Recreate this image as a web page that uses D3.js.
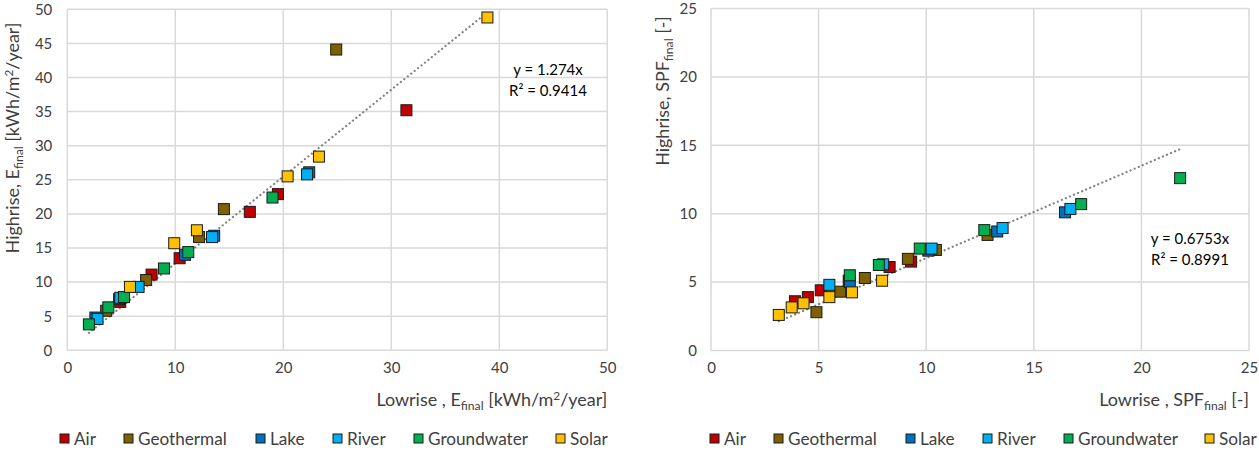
<!DOCTYPE html>
<html><head><meta charset="utf-8">
<script src="https://cdn.jsdelivr.net/npm/d3@7"></script>
<style>
html,body{margin:0;padding:0;background:#fff;}
text{font-family:Lato,"Liberation Sans",sans-serif;fill:#404040;}
</style></head>
<body>
<svg id="c" width="1259" height="454"></svg>
<script>
// ---------- data ----------
const seriesNames = ["Air","Geothermal","Lake","River","Groundwater","Solar"];
const seriesColors = ["#C00000","#7F6000","#0070C0","#00B0F0","#00B050","#FFC000"];

// Left chart: E_final [kWh/m2/year] (lowrise, highrise)
const eAir = [[31.4,35.2],[19.5,22.9],[16.9,20.3],[10.4,13.5],[7.8,11.1],[4.9,7.1]];
const eGeothermal = [[24.9,44.1],[14.5,20.7],[12.2,16.6],[7.3,10.3],[3.6,5.8]];
const eLake = [[22.4,26.1],[13.6,16.8],[10.9,14.0],[4.8,7.5],[2.6,4.8]];
const eRiver = [[22.2,25.8],[13.4,16.6],[6.6,9.3],[4.9,7.7],[2.8,4.6]];
const eGroundwater = [[19.0,22.4],[11.2,14.4],[8.95,12.0],[5.25,7.8],[3.8,6.3],[2.0,3.8]];
const eSolar = [[38.9,48.8],[23.3,28.4],[20.4,25.5],[12.0,17.6],[9.9,15.7],[5.8,9.3]];

// Right chart: SPF_final [-] (lowrise, highrise)
const sAir = [[3.9,3.6],[4.5,3.9],[5.1,4.4],[6.4,5.1],[8.3,6.1],[9.3,6.5]];
const sGeothermal = [[4.9,2.8],[6.0,4.3],[7.15,5.3],[9.15,6.7],[10.45,7.35],[12.85,8.45]];
const sLake = [[6.45,5.0],[10.1,7.3],[13.3,8.7],[16.45,10.1]];
const sRiver = [[5.5,4.8],[8.0,6.3],[10.25,7.45],[13.55,8.95],[16.7,10.35]];
const sGroundwater = [[6.45,5.5],[7.8,6.25],[9.7,7.45],[12.7,8.8],[17.2,10.7],[21.8,12.6]];
const sSolar = [[3.15,2.6],[3.75,3.15],[4.3,3.45],[5.5,3.9],[6.55,4.25],[7.95,5.1]];

const eTicks = [0,5,10,15,20,25,30,35,40,45,50];
const eXTicks = [0,10,20,30,40,50];
const sTicks = [0,5,10,15,20,25];
const eSlope = 1.274, eR2 = "0.9414";
const sSlope = 0.6753, sR2 = "0.8991";

// ---------- drawing ----------
const svg = d3.select("#c");
const FONT = "Lato,'Liberation Sans',sans-serif";

function fitFont(sel, base, target){
  sel.attr("font-size", base+"px");
  const w = sel.node().getComputedTextLength();
  return base*target/w;
}

// determine title / legend font sizes from the reference text widths
const probe = svg.append("text").attr("font-family",FONT).text("Groundwater");
const legendFont = fitFont(probe, 15, 100);
probe.remove();

function addTitle(parent, parts, size){
  const t = parent.append("text").attr("font-size", size+"px");
  t.append("tspan").text(parts[0]);
  t.append("tspan").attr("font-size",(size*0.68)+"px").attr("dy",size*0.22).text("final");
  t.append("tspan").attr("dy",-size*0.22).text(parts[1]);
  if(parts[2]){
    t.append("tspan").attr("font-size",(size*0.66)+"px").attr("dy",-size*0.33).text(parts[2]);
    t.append("tspan").attr("dy",size*0.33).text(parts[3]);
  }
  return t;
}
// title size so left x title spans ~231px
const probeT = addTitle(svg, ["Lowrise , E"," [kWh/m","2","/year]"], 15);
const titleFont = 15*231/probeT.node().getBBox().width;
probeT.remove();

function drawChart(cfg){
  const g = svg.append("g");
  const x = d3.scaleLinear().domain(cfg.xDomain).range(cfg.xRange);
  const y = d3.scaleLinear().domain(cfg.yDomain).range(cfg.yRange);
  // gridlines
  g.selectAll(".hg").data(cfg.yTicks).enter().append("line")
    .attr("x1", cfg.xRange[0]).attr("x2", cfg.xRange[1])
    .attr("y1", d=>y(d)).attr("y2", d=>y(d))
    .attr("stroke","#D9D9D9").attr("stroke-width",1.5);
  g.selectAll(".vg").data(cfg.xTicks).enter().append("line")
    .attr("y1", cfg.yRange[0]).attr("y2", cfg.yRange[1])
    .attr("x1", d=>x(d)).attr("x2", d=>x(d))
    .attr("stroke","#D9D9D9").attr("stroke-width",1.5);
  // axes (labels only)
  const xa = g.append("g").attr("transform",`translate(0,${cfg.yRange[0]})`)
    .call(d3.axisBottom(x).tickValues(cfg.xTicks).tickSize(0).tickPadding(12));
  xa.select(".domain").remove();
  xa.selectAll("text").attr("font-size","15px").attr("fill","#404040").style("font-family",FONT);
  const ya = g.append("g").attr("transform",`translate(${cfg.xRange[0]},0)`)
    .call(d3.axisLeft(y).tickValues(cfg.yTicks).tickSize(0).tickPadding(cfg.yPad));
  ya.select(".domain").remove();
  ya.selectAll("text").attr("font-size","15px").attr("fill","#404040").style("font-family",FONT);

  // trendline
  const all = cfg.series.flat();
  const xmin = d3.min(all,d=>d[0]), xmax = d3.max(all,d=>d[0]);
  g.append("line")
    .attr("x1",x(xmin)).attr("y1",y(cfg.slope*xmin))
    .attr("x2",x(xmax)).attr("y2",y(cfg.slope*xmax))
    .attr("stroke","#808080").attr("stroke-width",2.2)
    .attr("stroke-dasharray","0.1,4.3").attr("stroke-linecap","round");

  // points
  cfg.series.forEach((pts,i)=>{
    g.append("g").selectAll("rect").data(pts).enter().append("rect")
      .attr("x",d=>x(d[0])-5.5).attr("y",d=>y(d[1])-5.5)
      .attr("width",11).attr("height",11)
      .attr("fill",seriesColors[i]).attr("stroke","#1a1a1a").attr("stroke-width",1);
  });

  // equation
  const eq = g.append("text").attr("x",cfg.eqX).attr("y",cfg.eqY)
    .attr("text-anchor","middle").attr("font-size","15px");
  eq.append("tspan").attr("x",cfg.eqX).attr("dy",0).text(`y = ${cfg.slope}x`).style("fill","#000");
  eq.append("tspan").attr("x",cfg.eqX).attr("dy",21).text(`R² = ${cfg.r2}`).style("fill","#000");

  // x title
  const xt = addTitle(g, cfg.xTitle, titleFont)
    .attr("x",cfg.xRange[1]).attr("y",cfg.xTitleY).attr("text-anchor","end");
  // y title
  const yt = addTitle(g, cfg.yTitle, titleFont)
    .attr("transform",`translate(${cfg.yTitleX},${cfg.yTitleY}) rotate(-90)`)
    .attr("text-anchor","middle");

  // legend
  const lg = g.append("g");
  seriesNames.forEach((n,i)=>{
    const lx = cfg.legendX[i];
    lg.append("rect").attr("x",lx).attr("y",434).attr("width",9).attr("height",9)
      .attr("fill",seriesColors[i]).attr("stroke","#1a1a1a").attr("stroke-width",1);
    lg.append("text").attr("x",lx+14).attr("y",445).attr("font-size",legendFont+"px").text(n);
  });
}

drawChart({
  xDomain:[0,50], yDomain:[0,50], xRange:[67.3,607.3], yRange:[350.3,9.3],
  xTicks:eXTicks, yTicks:eTicks, yPad:15,
  series:[eAir,eGeothermal,eLake,eRiver,eGroundwater,eSolar],
  slope:eSlope, r2:eR2, eqX:548, eqY:75,
  xTitle:["Lowrise , E"," [kWh/m","2","/year]"], xTitleY:406,
  yTitle:["Highrise, E"," [kWh/m","2","/year]"], yTitleX:19, yTitleY:138,
  legendX:[60,124,256,333,414,556]
});
drawChart({
  xDomain:[0,25], yDomain:[0,25], xRange:[711,1249], yRange:[350.5,8.5],
  xTicks:sTicks, yTicks:sTicks, yPad:14,
  series:[sAir,sGeothermal,sLake,sRiver,sGroundwater,sSolar],
  slope:sSlope, r2:sR2, eqX:1190, eqY:244,
  xTitle:["Lowrise , SPF"," [-]"], xTitleY:406,
  yTitle:["Highrise, SPF"," [-]"], yTitleX:669, yTitleY:91,
  legendX:[710,774,906,983,1064,1205]
});
</script>
</body></html>
